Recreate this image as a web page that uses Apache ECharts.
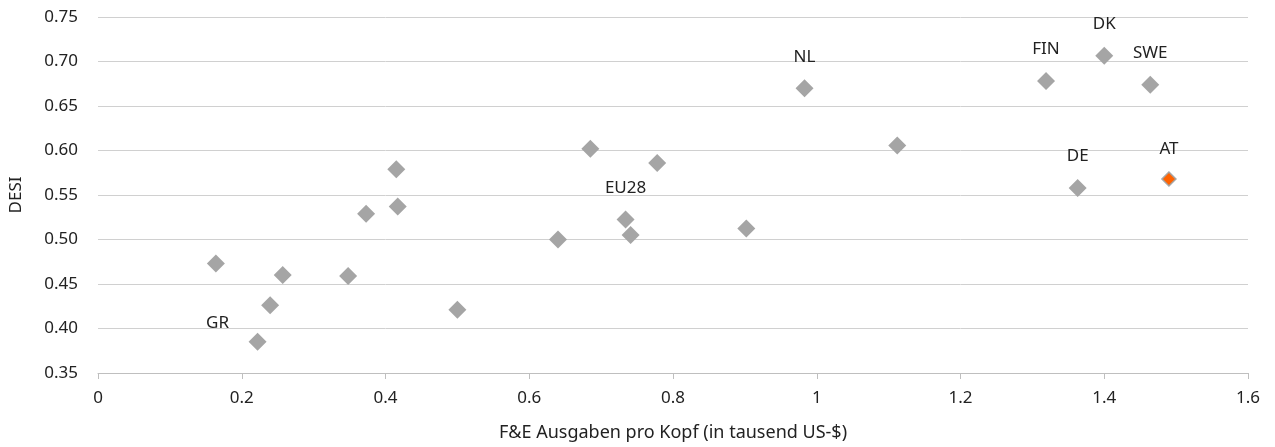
<!DOCTYPE html>
<html lang="de">
<head>
    <meta charset="UTF-8">
    <title>DESI vs F&E</title>
    <script src="https://cdn.jsdelivr.net/npm/echarts@6/dist/echarts.min.js"></script>
    <style>
        *{margin:0;padding:0;box-sizing:border-box;}
        html,body{width:1275px;height:447px;background:#fff;}
        #main{width:1275px;height:447px;}
    </style>
</head>
<body>
<div id="main"></div>
<script>
    // F&E Ausgaben pro Kopf (tausend US-$) und DESI je Land
    var rdSpending = [0.164, 0.222, 0.2395, 0.257, 0.348, 0.373, 0.415, 0.417, 0.500, 0.640, 0.685,
                      0.734, 0.741, 0.778, 0.902, 0.983, 1.112, 1.319, 1.363, 1.400, 1.464, 1.490]
    var desi       = [0.473, 0.385, 0.426, 0.460, 0.459, 0.529, 0.579, 0.537, 0.421, 0.500, 0.602,
                      0.5225, 0.505, 0.586, 0.5125, 0.670, 0.6055, 0.678, 0.558, 0.7066, 0.674, 0.568]
    var countries  = ['', 'GR', '', '', '', '', '', '', '', '', '',
                      'EU28', '', '', '', 'NL', '', 'FIN', 'DE', 'DK', 'SWE', 'AT']
    var highlight = 'AT'

    var fontName = 'Noto Sans'
    var points = rdSpending.map(function (x, i) {
        var p = {value: [x, desi[i]], name: countries[i]}
        if (countries[i] === highlight) {
            p.itemStyle = {color: '#ff6200', borderColor: '#a5a5a5', borderWidth: 1.5}
            p.symbolSize = 14
        }
        if (countries[i] === 'GR') {
            p.label = {offset: [-40, 13]}
        }
        return p
    })

    var myChart = echarts.init(document.getElementById('main'))
    var option = {
        animation: false,
        textStyle: {fontFamily: fontName},
        grid: {left: 97, right: 27, top: 17, bottom: 73},
        xAxis: {
            type: 'value', min: 0, max: 1.6, interval: 0.2,
            name: 'F&E Ausgaben pro Kopf (in tausend US-$)',
            nameLocation: 'middle', nameGap: 51,
            nameTextStyle: {color: '#222', fontSize: 18, fontFamily: fontName},
            axisLine: {lineStyle: {color: '#bfbfbf'}},
            axisTick: {show: true, length: 6, lineStyle: {color: '#bfbfbf'}},
            axisLabel: {color: '#222', fontSize: 17, margin: 17,
                formatter: function (v) { return String(+v.toFixed(1)) }},
            splitLine: {show: false}
        },
        yAxis: {
            type: 'value', min: 0.35, max: 0.75, interval: 0.05,
            name: 'DESI', nameLocation: 'middle', nameGap: 73, nameRotate: 90,
            nameTextStyle: {color: '#222', fontSize: 17, fontFamily: fontName},
            axisLine: {show: false},
            axisTick: {show: false},
            axisLabel: {color: '#222', fontSize: 17, margin: 20,
                formatter: function (v) { return v.toFixed(2) }},
            splitLine: {lineStyle: {color: '#d0d0d0', width: 1}}
        },
        series: [{
            type: 'scatter',
            symbol: 'diamond',
            symbolSize: 18,
            itemStyle: {color: '#a5a5a5', opacity: 1},
            label: {
                show: true, position: 'top', distance: 14,
                color: '#222', fontSize: 17, fontFamily: fontName,
                formatter: function (p) { return p.name }
            },
            data: points
        }]
    }
    myChart.setOption(option)
</script>
</body>
</html>
